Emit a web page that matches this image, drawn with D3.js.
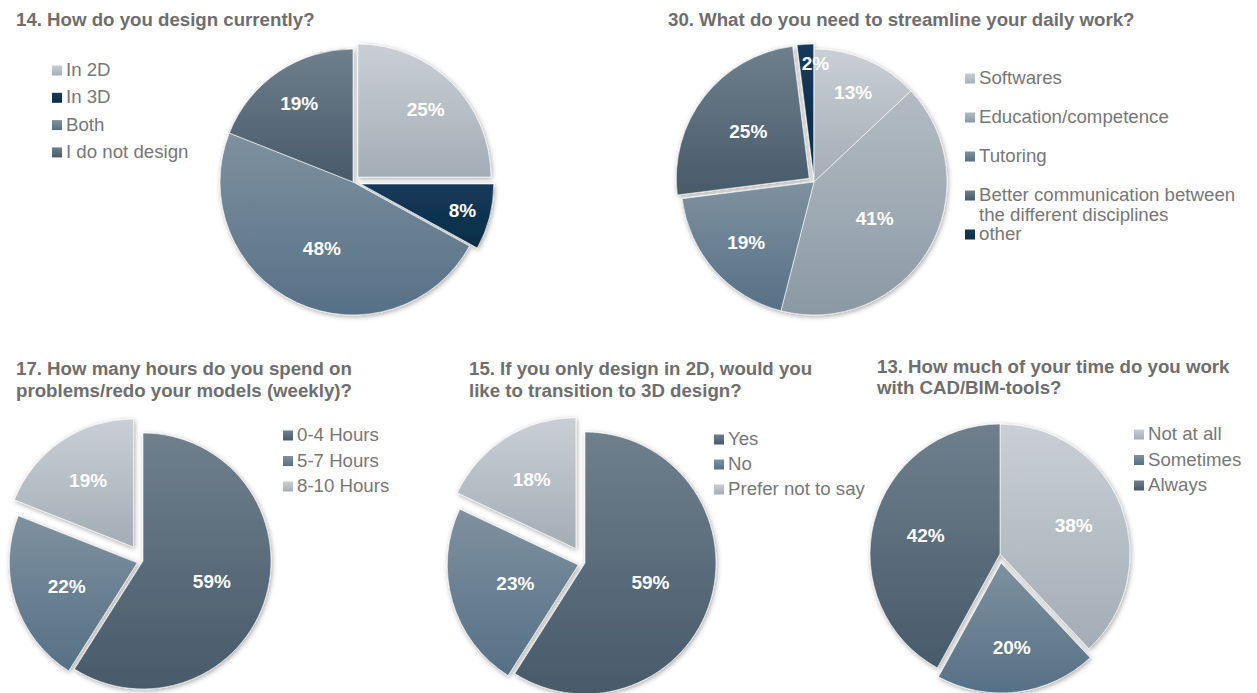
<!DOCTYPE html>
<html>
<head>
<meta charset="utf-8">
<script src="https://cdn.jsdelivr.net/npm/d3@7"></script>
<style>
  html, body { margin: 0; padding: 0; background: #fff; }
  svg { display: block; font-family: "Liberation Sans", Arial, sans-serif; }
</style>
</head>
<body>
<svg id="chart" width="1257" height="693"></svg>
<script>
// Survey answers, in percent of respondents
const q14Title = ["14. How do you design currently?"];
const q14Categories = ["In 2D", "In 3D", "Both", "I do not design"];
const q14Values = [25, 8, 48, 19];

const q30Title = ["30. What do you need to streamline your daily work?"];
const q30Categories = ["Softwares", "Education/competence", "Tutoring",
  "Better communication between the different disciplines", "other"];
const q30Values = [13, 41, 19, 25, 2];

const q17Title = ["17. How many hours do you spend on", "problems/redo your models (weekly)?"];
const q17Categories = ["0-4 Hours", "5-7 Hours", "8-10 Hours"];
const q17Values = [59, 22, 19];

const q15Title = ["15. If you only design in 2D, would you", "like to transition to 3D design?"];
const q15Categories = ["Yes", "No", "Prefer not to say"];
const q15Values = [59, 23, 18];

const q13Title = ["13. How much of your time do you work", "with CAD/BIM-tools?"];
const q13Categories = ["Not at all", "Sometimes", "Always"];
const q13Values = [38, 20, 42];

// Fill ramps (top -> bottom of each slice)
const ramps = {
  light: ["#c9cfd5", "#a3adb6"],
  edu:   ["#b3bcc4", "#8b99a5"],
  mid:   ["#7e919f", "#567086"],
  dark:  ["#6f7f8c", "#475a6a"],
  navy:  ["#143a5a", "#0d2d47"]
};

// Placement of each pie panel
const panels = [
  { title: q14Title, cats: q14Categories, vals: q14Values,
    colors: ["light", "navy", "mid", "dark"],
    titleX: 16, titleY: 26, titleLH: 22,
    cx: 353, cy: 182, r: 133, explode: [7, 8, 0, 0], labelK: [0.72, 0.79, 0.55, 0.72],
    legendX: 52, legendY: 76, legendStep: 27.3 },
  { title: q30Title, cats: q30Categories, vals: q30Values,
    colors: ["light", "edu", "mid", "dark", "navy"],
    titleX: 668, titleY: 26, titleLH: 22,
    cx: 814, cy: 182, r: 133, explode: [0, 0, 0, 6, 5], labelK: [0.74, 0.53, 0.68, 0.58, 0.86],
    labelDx: [0, 0, 0, 0, 9],
    legendX: 965, legendY: 84, legendStep: 39, wrap: 262, wrapLH: 20 },
  { title: q17Title, cats: q17Categories, vals: q17Values,
    colors: ["dark", "mid", "light"],
    titleX: 16, titleY: 375, titleLH: 22,
    cx: 143, cy: 561, r: 128, explode: [0, 6, 17], labelK: [0.56, 0.58, 0.63],
    legendX: 283, legendY: 441, legendStep: 25.5 },
  { title: q15Title, cats: q15Categories, vals: q15Values,
    colors: ["dark", "mid", "light"],
    titleX: 469, titleY: 375, titleLH: 22,
    cx: 585, cy: 563, r: 131, explode: [0, 7, 17], labelK: [0.52, 0.5, 0.63],
    legendX: 714, legendY: 445, legendStep: 25, clipRight: 865 },
  { title: q13Title, cats: q13Categories, vals: q13Values,
    colors: ["light", "mid", "dark"],
    titleX: 877, titleY: 373, titleLH: 21,
    cx: 1000, cy: 554, r: 130, explode: [0, 9, 0], labelK: [0.61, 0.65, 0.59],
    legendX: 1134, legendY: 440, legendStep: 25.5 }
];

const svg = d3.select("#chart");
const defs = svg.append("defs");

Object.entries(ramps).forEach(([key, [top, bottom]]) => {
  const g = defs.append("linearGradient").attr("id", "g-" + key)
    .attr("x1", 0).attr("y1", 0).attr("x2", 0).attr("y2", 1);
  g.append("stop").attr("offset", "0%").attr("stop-color", top);
  g.append("stop").attr("offset", "100%").attr("stop-color", bottom);
});

const shadow = defs.append("filter").attr("id", "shadow")
  .attr("x", "-15%").attr("y", "-15%").attr("width", "130%").attr("height", "130%");
shadow.append("feDropShadow").attr("dx", 1).attr("dy", 1.5)
  .attr("stdDeviation", 2.4).attr("flood-color", "#000").attr("flood-opacity", 0.35);

const pie = d3.pie().sort(null).value(d => d).startAngle(0).endAngle(2 * Math.PI);

panels.forEach((p, pi) => {
  const g = svg.append("g").attr("class", "panel");

  // title
  const t = g.append("text").attr("x", p.titleX).attr("y", p.titleY)
    .attr("font-size", 18.67).attr("font-weight", "bold").attr("fill", "#6e6e6e");
  p.title.forEach((line, i) => {
    t.append("tspan").attr("x", p.titleX).attr("y", p.titleY + i * p.titleLH).text(line);
  });

  // pie slices
  const arcs = pie(p.vals);
  const arc = d3.arc().innerRadius(0).outerRadius(p.r);
  const offset = (d, i) => {
    const mid = (d.startAngle + d.endAngle) / 2;
    const e = p.explode[i] || 0;
    return [e * Math.sin(mid), -e * Math.cos(mid)];
  };

  const pieG = g.append("g").attr("transform", `translate(${p.cx},${p.cy})`)
    .attr("filter", "url(#shadow)");
  pieG.selectAll("path").data(arcs).join("path")
    .attr("transform", (d, i) => { const [dx, dy] = offset(d, i); return `translate(${dx},${dy})`; })
    .attr("d", arc)
    .attr("fill", (d, i) => `url(#g-${p.colors[i]})`)
    .attr("stroke", "#ffffff").attr("stroke-width", 1).attr("stroke-opacity", 0.6);

  // value labels
  const labG = g.append("g").attr("transform", `translate(${p.cx},${p.cy})`);
  labG.selectAll("text").data(arcs).join("text")
    .attr("transform", (d, i) => {
      const [dx, dy] = offset(d, i);
      const k = p.labelK[i] * p.r;
      const c = d3.arc().innerRadius(k).outerRadius(k).centroid(d);
      const nudge = p.labelDx ? p.labelDx[i] : 0;
      return `translate(${c[0] + dx + nudge},${c[1] + dy})`;
    })
    .attr("text-anchor", "middle").attr("dy", "0.36em")
    .attr("font-size", 19).attr("font-weight", "bold").attr("fill", "#ffffff")
    .text(d => d.data + "%");

  // legend
  const legG = g.append("g");
  if (p.clipRight) {
    defs.append("clipPath").attr("id", "clip" + pi)
      .append("rect").attr("x", 0).attr("y", 0).attr("width", p.clipRight).attr("height", 693);
    legG.attr("clip-path", `url(#clip${pi})`);
  }
  p.cats.forEach((name, i) => {
    const y = p.legendY + i * p.legendStep;
    legG.append("rect").attr("x", p.legendX).attr("y", y - 10.5)
      .attr("width", 10).attr("height", 10)
      .attr("fill", `url(#g-${p.colors[i]})`);
    const txt = legG.append("text").attr("x", p.legendX + 14).attr("y", y)
      .attr("font-size", 18.67).attr("fill", "#777777");
    if (p.wrap) {
      const words = name.split(" ");
      let line = [], lineNo = 0;
      let ts = txt.append("tspan").attr("x", p.legendX + 14).attr("y", y);
      words.forEach(w => {
        line.push(w);
        ts.text(line.join(" "));
        if (ts.node().getComputedTextLength() > p.wrap && line.length > 1) {
          line.pop();
          ts.text(line.join(" "));
          line = [w];
          lineNo += 1;
          ts = txt.append("tspan").attr("x", p.legendX + 14)
            .attr("y", y + lineNo * p.wrapLH).text(w);
        }
      });
    } else {
      txt.text(name);
    }
  });
});
</script>
</body>
</html>
